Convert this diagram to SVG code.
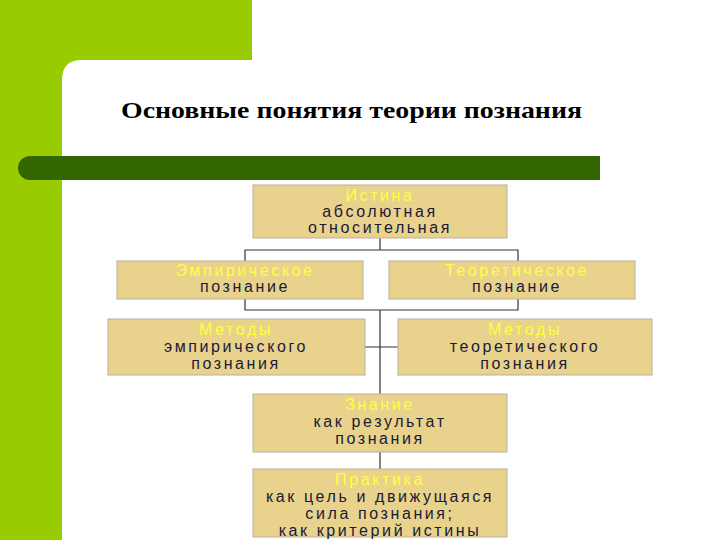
<svg xmlns="http://www.w3.org/2000/svg" width="720" height="540" viewBox="0 0 720 540">
<style>
.box{fill:#e8d28c;stroke:#b8b0a0;stroke-width:1}
.t{font-family:"Liberation Sans",Arial,sans-serif;font-size:16px;text-anchor:middle;fill:#1a1a3a;letter-spacing:2.6px}
.h{fill:#ffff40}
.c{fill:none;stroke:#333;stroke-width:1.2}
</style>
<rect x="0" y="0" width="720" height="540" fill="#fff"/>
<path d="M0 0H252V60H82Q62 60 62 80V540H0Z" fill="#99cc00"/>
<path d="M30 156H600V180H30A12 12 0 0 1 30 156Z" fill="#336600"/>
<text x="121" y="118" font-family="Liberation Serif,serif" font-weight="bold" font-size="24" textLength="461" lengthAdjust="spacingAndGlyphs">Основные понятия теории познания</text>
<g id="connectors">
<path class="c" d="M380 238V250M245 261V250H518V261M245 299V310H518V299M380 310V394M365 347H398M380 452V469"/>
</g>
<g id="istina"><rect class="box" x="253" y="185" width="254" height="53"/>
<text class="t" x="380" y="201"><tspan class="h">Истина</tspan><tspan x="380" dy="16">абсолютная</tspan><tspan x="380" dy="16">относительная</tspan></text></g>
<g id="emp"><rect class="box" x="117" y="261" width="246" height="38"/>
<text class="t" x="245" y="276"><tspan class="h">Эмпирическое</tspan><tspan x="245" dy="16">познание</tspan></text></g>
<g id="teor"><rect class="box" x="389" y="261" width="246" height="38"/>
<text class="t" x="517" y="276"><tspan class="h">Теоретическое</tspan><tspan x="517" dy="16">познание</tspan></text></g>
<g id="met-emp"><rect class="box" x="108" y="319" width="257" height="56"/>
<text class="t" x="236" y="335"><tspan class="h">Методы</tspan><tspan x="236" dy="17">эмпирического</tspan><tspan x="236" dy="17">познания</tspan></text></g>
<g id="met-teor"><rect class="box" x="398" y="319" width="254" height="56"/>
<text class="t" x="525" y="335"><tspan class="h">Методы</tspan><tspan x="525" dy="17">теоретического</tspan><tspan x="525" dy="17">познания</tspan></text></g>
<g id="znanie"><rect class="box" x="253" y="394" width="254" height="58"/>
<text class="t" x="380" y="410"><tspan class="h">Знание</tspan><tspan x="380" dy="17">как результат</tspan><tspan x="380" dy="17">познания</tspan></text></g>
<g id="praktika"><rect class="box" x="253" y="469" width="254" height="68"/>
<text class="t" x="380" y="485"><tspan class="h">Практика</tspan><tspan x="380" dy="17">как цель и движущаяся</tspan><tspan x="380" dy="17">сила познания;</tspan><tspan x="380" dy="17">как критерий истины</tspan></text></g>
</svg>
